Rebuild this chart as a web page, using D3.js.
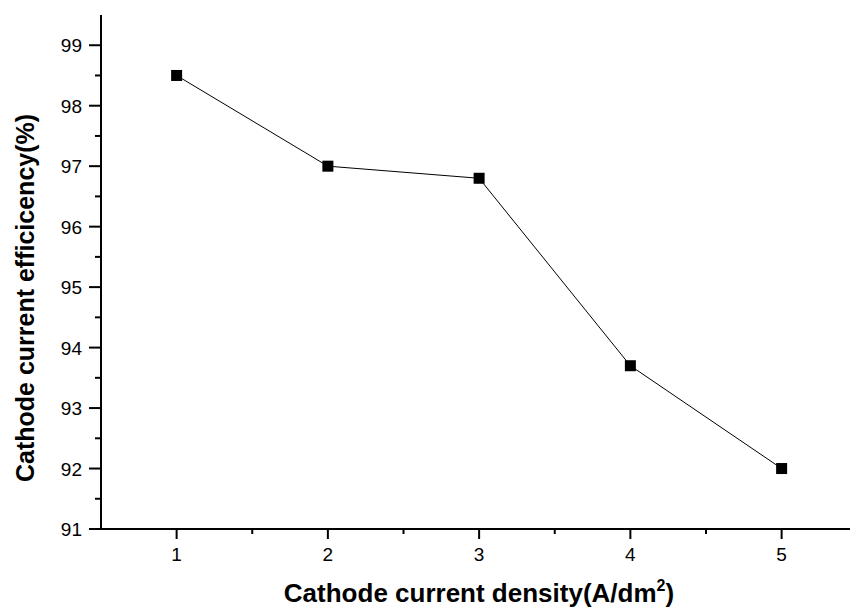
<!DOCTYPE html>
<html><head><meta charset="utf-8">
<script src="https://cdn.jsdelivr.net/npm/d3@7"></script>
<style>body{margin:0;background:#fff}svg{display:block}text{font-family:"Liberation Sans",Arial,sans-serif}</style>
</head><body><svg id="c" width="850" height="608"></svg>
<script>
const densities = [1, 2, 3, 4, 5];
const efficiency = [98.5, 97.0, 96.8, 93.7, 92.0];
const xTicks = [1, 2, 3, 4, 5];
const yTicks = [91, 92, 93, 94, 95, 96, 97, 98, 99];
const xTitle = "Cathode current density(A/dm";
const yTitle = "Cathode current efficicency(%)";

const svg = d3.select("#c");
const x = d3.scaleLinear().domain([0.5, 5.5]).range([101, 857.25]);
const y = d3.scaleLinear().domain([91, 99.5]).range([529, 15]);

const xMinor = d3.range(1.5, 5.5, 1);
const yMinor = d3.range(91.5, 99.5, 1);

// x axis
const gx = svg.append("g").attr("transform", `translate(0,${y(91)})`);
gx.append("line").attr("x1", x(0.5)).attr("x2", x(5.5)).attr("stroke", "#000").attr("stroke-width", 2);
gx.selectAll(".maj").data(xTicks).join("line").attr("class","maj").attr("x1", d => x(d)).attr("x2", d => x(d))
  .attr("y1", 0).attr("y2", 10).attr("stroke", "#000").attr("stroke-width", 2);
gx.selectAll(".min").data(xMinor).join("line").attr("class","min").attr("x1", d => x(d)).attr("x2", d => x(d))
  .attr("y1", 0).attr("y2", 5).attr("stroke", "#000").attr("stroke-width", 2);
gx.selectAll("text").data(xTicks).join("text").attr("x", d => x(d)).attr("y", 32)
  .attr("text-anchor", "middle").attr("font-size", 19).text(d => d);

// y axis
const gy = svg.append("g").attr("transform", `translate(${x(0.5)},0)`);
gy.append("line").attr("y1", y(91)).attr("y2", y(99.5)).attr("stroke", "#000").attr("stroke-width", 2);
gy.selectAll(".maj").data(yTicks).join("line").attr("class","maj").attr("y1", d => y(d)).attr("y2", d => y(d))
  .attr("x1", 0).attr("x2", -12).attr("stroke", "#000").attr("stroke-width", 2);
gy.selectAll(".min").data(yMinor).join("line").attr("class","min").attr("y1", d => y(d)).attr("y2", d => y(d))
  .attr("x1", 0).attr("x2", -6).attr("stroke", "#000").attr("stroke-width", 2);
gy.selectAll("text").data(yTicks).join("text").attr("x", -19).attr("y", d => y(d)).attr("dy", "0.38em")
  .attr("text-anchor", "end").attr("font-size", 19).text(d => d);

// line
const pts = densities.map((d, i) => [d, efficiency[i]]);
svg.append("path").datum(pts).attr("fill", "none").attr("stroke", "#000").attr("stroke-width", 1)
  .attr("d", d3.line().x(d => x(d[0])).y(d => y(d[1])));
svg.selectAll(".pt").data(pts).join("rect").attr("class","pt")
  .attr("x", d => x(d[0]) - 5.5).attr("y", d => y(d[1]) - 5.5).attr("width", 11).attr("height", 11).attr("fill", "#000");

// titles
const xt = svg.append("text").attr("x", 479).attr("y", 602).attr("text-anchor", "middle")
  .attr("font-size", 26).attr("font-weight", "bold");
xt.append("tspan").text(xTitle);
xt.append("tspan").attr("font-size", 16).attr("dy", -11).text("2");
xt.append("tspan").attr("dy", 11).text(")");

svg.append("text").attr("transform", "translate(34,298) rotate(-90)").attr("text-anchor", "middle")
  .attr("font-size", 25).attr("font-weight", "bold").text(yTitle);
</script></body></html>
